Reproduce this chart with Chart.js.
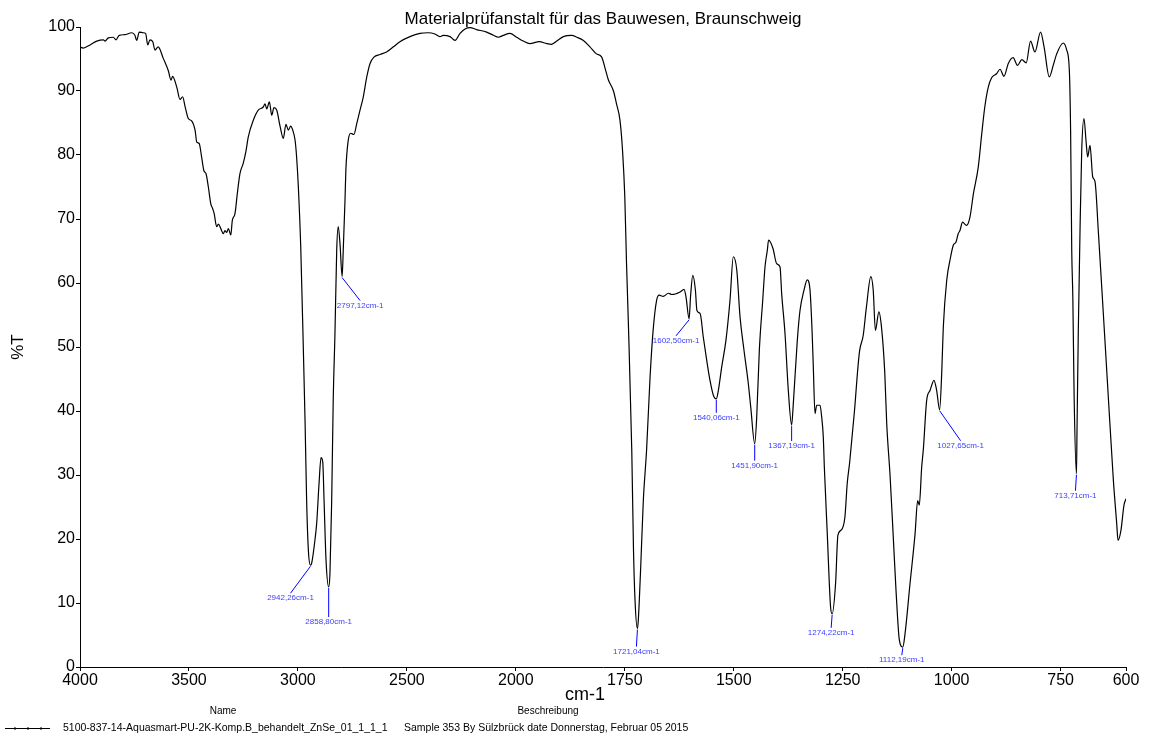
<!DOCTYPE html>
<html>
<head>
<meta charset="utf-8">
<title>IR spectrum</title>
<script src="https://cdn.jsdelivr.net/npm/chart.js@4.4.1/dist/chart.umd.min.js"></script>
<style>
    html, body { margin: 0; padding: 0; background: #fff; }
    #wrap { width: 1149px; height: 738px; position: relative; }
</style>
</head>
<body>
<div id="wrap"><canvas id="spectrum"></canvas></div>
<script>
// Spectrum: wavenumber (cm-1) and %T
const wavenumbers = [
    4000, 3985, 3954, 3923, 3893, 3885, 3870, 3847, 3835, 3820, 3794, 3763, 3748, 3740, 3728, 3710, 3699, 3689, 3679, 3666,
    3656, 3641, 3618, 3595, 3582, 3575, 3556, 3541, 3529, 3518, 3503, 3487, 3472, 3464, 3453, 3442, 3431, 3422, 3411, 3400,
    3391, 3384, 3373, 3365, 3354, 3342, 3335, 3327, 3319, 3308, 3301, 3289, 3278, 3266, 3251, 3238, 3228, 3205, 3182, 3159,
    3151, 3143, 3131, 3120, 3110, 3097, 3082, 3067, 3055, 3044, 3033, 3024, 3013, 3006, 2998, 2987, 2975, 2967, 2960, 2952,
    2942.26, 2937, 2922, 2914, 2903, 2894, 2886, 2880, 2871, 2858.80, 2853, 2845, 2838, 2830, 2822, 2815, 2807, 2797.12, 2792, 2784,
    2780, 2769, 2758, 2743, 2730, 2715, 2700, 2684, 2669, 2651, 2623, 2593, 2562, 2532, 2486, 2440, 2402, 2371, 2348, 2333,
    2302, 2279, 2256, 2233, 2210, 2180, 2134, 2103, 2080, 2057, 2027, 1998, 1983, 1968, 1946, 1929, 1918, 1906, 1891, 1872,
    1860, 1845, 1830, 1815, 1803, 1795, 1788, 1776, 1769, 1761, 1755, 1750, 1746, 1742, 1734, 1730, 1726.5, 1721.04, 1719, 1713.5,
    1707.5, 1700, 1692, 1685, 1677, 1671, 1662, 1650, 1642, 1623, 1614, 1609.5, 1602.50, 1599, 1594, 1588, 1584.5, 1577, 1570, 1562,
    1554.5, 1546, 1540.06, 1535.4, 1527.6, 1518, 1508.6, 1501, 1493, 1485.6, 1476.5, 1466.6, 1461, 1451.90, 1447.3, 1441.3, 1433.5, 1428.3, 1423, 1420,
    1410, 1401.4, 1393.8, 1390, 1382.4, 1374.8, 1367.19, 1363.4, 1354.2, 1348, 1338.8, 1331.3, 1325, 1320, 1317.5, 1313.6, 1309.7, 1302, 1298.3, 1294.6,
    1292, 1285.4, 1278, 1274.22, 1266.4, 1261, 1253.3, 1245, 1239.6, 1234, 1223, 1215, 1211, 1203, 1195.5, 1185.5, 1180, 1175, 1167, 1161,
    1153.5, 1149, 1141.4, 1134.5, 1127.7, 1120, 1112.19, 1107, 1095.6, 1084, 1078, 1074.3, 1068.8, 1065, 1057.3, 1049.7, 1040.6, 1034.4, 1027.65, 1022.9,
    1019.2, 1011.4, 1002.3, 996.3, 990, 985, 981, 975, 966, 958, 950, 939, 931, 924, 916, 908, 897, 889, 880, 870,
    859, 849, 839, 829, 819, 809, 796, 788, 776, 767, 759, 744, 736, 730, 727, 724.5, 722, 719, 713.71, 712.4,
    709.4, 705.5, 701.6, 696.4, 691.8, 688, 682.6, 676.4, 671, 663.6, 652, 640.6, 629, 621.3, 618.3, 611.5, 604.6, 600
];
const transmittance = [
    96.9, 96.7, 97.2, 97.8, 98.0, 97.8, 98.3, 98.4, 98.0, 98.7, 98.8, 99.1, 98.7, 97.9, 99.2, 99.1, 99.0, 97.2, 98.0, 97.7,
    96.4, 96.9, 95.1, 93.2, 91.7, 92.3, 90.6, 88.7, 89.1, 87.6, 85.7, 85.3, 83.9, 82.0, 81.8, 79.7, 77.5, 77.1, 75.0, 72.4,
    71.6, 70.8, 68.8, 69.2, 68.5, 67.7, 68.2, 67.9, 68.5, 67.5, 69.8, 70.8, 74.0, 77.1, 78.7, 80.7, 82.8, 85.4, 87.0, 87.5,
    88.0, 87.2, 88.3, 86.2, 87.4, 87.0, 84.5, 82.6, 84.8, 83.9, 84.5, 83.9, 82.3, 79.7, 75.0, 65.6, 49.5, 38.0, 26.0, 18.2,
    15.9, 16.2, 19.8, 22.4, 28.7, 32.7, 32.0, 26.0, 16.7, 12.5, 14.6, 26.0, 41.7, 52.1, 65.1, 68.8, 66.2, 61.0, 65.1, 72.9,
    77.6, 82.3, 83.4, 83.2, 84.9, 87.0, 89.1, 92.2, 94.3, 95.3, 95.7, 96.1, 96.9, 97.7, 98.5, 99.0, 99.1, 98.9, 98.5, 98.7,
    98.5, 97.9, 99.0, 99.7, 99.9, 99.6, 99.2, 98.7, 98.4, 98.7, 99.0, 98.4, 97.8, 97.4, 97.7, 97.4, 97.3, 97.8, 98.5, 98.7,
    98.4, 97.9, 96.9, 95.8, 95.3, 93.5, 91.8, 90.0, 88.0, 85.4, 80.5, 73.5, 63.0, 54.2, 33.9, 18.2, 10.4, 6.0, 7.3, 15.6,
    26.0, 33.9, 45.3, 52.6, 57.3, 58.1, 57.9, 58.4, 58.2, 58.6, 59.0, 57.8, 54.4, 58.0, 61.2, 58.9, 55.7, 55.2, 51.6, 47.9,
    44.8, 42.3, 41.9, 43.2, 46.9, 51.0, 57.3, 64.1, 62.0, 54.7, 49.5, 44.3, 40.6, 34.9, 39.1, 49.5, 57.3, 62.5, 65.1, 66.7,
    65.4, 63.0, 62.5, 58.3, 52.1, 43.2, 37.8, 41.1, 51.0, 55.7, 58.9, 60.5, 58.9, 52.0, 47.0, 39.6, 40.9, 40.9, 39.1, 36.0,
    31.0, 20.8, 9.5, 8.3, 13.0, 20.6, 21.4, 23.4, 28.7, 32.0, 40.0, 46.9, 49.5, 51.8, 56.3, 61.0, 58.9, 52.6, 55.5, 53.1,
    46.0, 38.0, 30.0, 21.0, 12.0, 4.2, 3.1, 5.2, 13.0, 20.8, 26.0, 25.3, 31.2, 34.0, 41.7, 43.2, 44.8, 43.2, 40.2, 45.8,
    53.1, 60.4, 64.1, 65.9, 66.4, 67.7, 68.2, 69.5, 69.0, 70.3, 74.0, 78.1, 83.3, 87.5, 90.6, 92.1, 92.7, 93.4, 92.3, 94.3,
    95.2, 94.0, 94.9, 94.4, 97.8, 96.1, 99.2, 96.9, 92.2, 94.0, 95.8, 97.5, 96.4, 93.2, 83.3, 65.1, 57.8, 42.2, 30.2, 37.0,
    52.6, 68.2, 80.7, 85.7, 82.3, 79.7, 81.5, 76.6, 75.8, 68.2, 55.2, 42.2, 29.2, 22.4, 19.8, 21.4, 25.3, 26.3
];

// Picked peaks (cm-1)
const peakMarks = [2942.26, 2858.80, 2797.12, 1721.04, 1602.50, 1540.06, 1451.90, 1367.19, 1274.22, 1112.19, 1027.65, 713.71];

// Axis ticks
const xTickValues = [4000, 3500, 3000, 2500, 2000, 1750, 1500, 1250, 1000, 750, 600];
const yTickStep = 10;

const sampleName = '5100-837-14-Aquasmart-PU-2K-Komp.B_behandelt_ZnSe_01_1_1_1';
const sampleDescription = 'Sample 353 By Sülzbrück date Donnerstag, Februar 05 2015';

// Leader line end, relative to each peak (px), same order as peakMarks
const leaderOffsets = [[-20, 28], [0, 30], [18, 24], [-1, 18], [-13, 17], [0, 14], [0, 17], [0, 16], [-1, 14], [-1, 8], [21, 31], [-1, 17]];

// The spectrometer plots 4000-2000 at half the density of 2000-600
const BREAK = 2000;
const toUnit = w => (w >= BREAK ? (4000 - w) / 2 : 1000 + (BREAK - w));
const fromUnit = u => (u <= 1000 ? 4000 - 2 * u : BREAK - (u - 1000));

class SplitScale extends Chart.LinearScale {
    getPixelForValue(value) {
        return this.getPixelForDecimal((toUnit(value) - toUnit(this.max)) / (toUnit(this.min) - toUnit(this.max)));
    }
    getValueForPixel(pixel) {
        const span = toUnit(this.min) - toUnit(this.max);
        return fromUnit(toUnit(this.max) + this.getDecimalForPixel(pixel) * span);
    }
}
SplitScale.id = 'split';
SplitScale.defaults = Chart.LinearScale.defaults;
Chart.register(SplitScale);

const FONT = '"Liberation Sans", Arial, sans-serif';
Chart.defaults.font.family = FONT;
Chart.defaults.color = '#000';

const peakLabels = {
    id: 'peakLabels',
    afterDatasetsDraw(chart) {
        const { ctx, scales: { x, y } } = chart;
        ctx.save();
        ctx.font = '8px ' + FONT;
        ctx.textAlign = 'center';
        ctx.textBaseline = 'top';
        ctx.lineWidth = 1;
        peakMarks.forEach((w, i) => {
            const t = transmittance[wavenumbers.indexOf(w)];
            const px = x.getPixelForValue(w);
            const py = y.getPixelForValue(t);
            const ex = px + leaderOffsets[i][0];
            const ey = py + leaderOffsets[i][1];
            ctx.strokeStyle = '#0000ff';
            ctx.beginPath();
            ctx.moveTo(px, py + 1);
            ctx.lineTo(ex, ey);
            ctx.stroke();
            ctx.fillStyle = '#3c3cff';
            ctx.fillText(w.toFixed(2).replace('.', ',') + 'cm-1', ex, ey + 1);
        });
        ctx.restore();
    }
};

const pageText = {
    id: 'pageText',
    afterDraw(chart) {
        const { ctx, chartArea } = chart;
        ctx.save();
        ctx.fillStyle = '#000';
        ctx.textBaseline = 'middle';
        ctx.textAlign = 'center';

        ctx.font = '17px ' + FONT;
        ctx.fillText('Materialprüfanstalt für das Bauwesen, Braunschweig', (chartArea.left + chartArea.right) / 2, 19);

        // x axis title sits a little left of centre in the original
        ctx.font = '18px ' + FONT;
        ctx.fillText('cm-1', 585, 695);

        ctx.font = '10px ' + FONT;
        ctx.fillText('Name', 223, 711);
        ctx.fillText('Beschreibung', 548, 711);

        // legend swatch
        ctx.strokeStyle = '#000';
        ctx.lineWidth = 1;
        ctx.beginPath();
        ctx.moveTo(5, 728.5);
        ctx.lineTo(50, 728.5);
        ctx.stroke();
        [14, 27, 40].forEach(dx => ctx.fillRect(dx, 727.5, 2, 2));

        ctx.font = '10.5px ' + FONT;
        ctx.textAlign = 'left';
        ctx.fillText(sampleName, 63, 728);
        ctx.fillText(sampleDescription, 404, 728);
        ctx.restore();
    }
};

const axisGrid = { drawOnChartArea: false, drawTicks: true, tickLength: 4, color: '#000' };
const axisBorder = { color: '#000', width: 1 };

new Chart(document.getElementById('spectrum'), {
    type: 'line',
    data: {
        datasets: [{
            label: sampleName,
            data: wavenumbers.map((w, i) => ({ x: w, y: transmittance[i] })),
            borderColor: '#000',
            borderWidth: 1.2,
            pointRadius: 0,
            cubicInterpolationMode: 'monotone',
            fill: false
        }]
    },
    options: {
        responsive: true,
        maintainAspectRatio: false,
        animation: false,
        devicePixelRatio: 1,
        layout: { padding: { top: 27, right: 23, bottom: 0, left: 0 } },
        scales: {
            x: {
                type: 'split',
                min: 600,
                max: 4000,
                afterBuildTicks: axis => { axis.ticks = xTickValues.map(v => ({ value: v })); },
                afterFit: axis => { axis.height = 71; },
                grid: axisGrid,
                border: axisBorder,
                ticks: { autoSkip: false, maxRotation: 0, padding: 0, font: { size: 16 }, callback: v => String(v) }
            },
            y: {
                min: 0,
                max: 100,
                afterFit: axis => { axis.width = 80; },
                grid: axisGrid,
                border: axisBorder,
                ticks: { stepSize: yTickStep, padding: 1, font: { size: 16 } },
                title: { display: true, text: '%T', font: { size: 17 }, padding: { top: 8 } }
            }
        },
        plugins: {
            legend: { display: false },
            tooltip: { enabled: false }
        }
    },
    plugins: [peakLabels, pageText]
});
</script>
</body>
</html>
